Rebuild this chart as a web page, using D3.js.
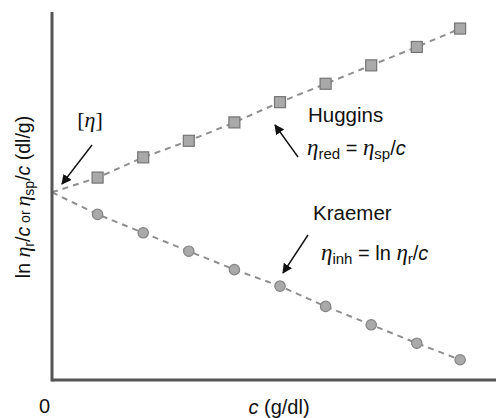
<!DOCTYPE html>
<html>
<head>
<meta charset="utf-8">
<script src="https://cdn.jsdelivr.net/npm/d3@7"></script>
<style>
  body { margin: 0; background: #fff; }
  svg { display: block; font-family: "Liberation Sans", Arial, sans-serif; }
</style>
</head>
<body>
<svg id="chart" width="496" height="418"></svg>
<script>
// 濃度 c (g/dl)
const conc = [1, 2, 3, 4, 5, 6, 7, 8, 8.95];
// Huggins (η_red = η_sp / c)
const huggins = [1.10, 1.21, 1.30, 1.40, 1.51, 1.61, 1.71, 1.81, 1.91];
// Kraemer (η_inh = ln η_r / c)
const kraemer = [0.90, 0.80, 0.70, 0.60, 0.51, 0.40, 0.30, 0.20, 0.11];
// 固有粘度 [η] (c = 0 の切片)
const intrinsic = 1.02;
const xTickLabels = ["0"];

const svg = d3.select("#chart");
const margin = {top: 12, right: 0, bottom: 38, left: 52};
const W = 496, H = 418;

const x = d3.scaleLinear().domain([0, 10]).range([margin.left, margin.left + 456]);
const y = d3.scaleLinear().domain([0, 2]).range([H - margin.bottom, H - margin.bottom - 368]);

const lineColor = "#8f8f8f";
const axisColor = "#555";
const fs = 20;      // 本文フォントサイズ
const etaFs = 23;   // η のフォントサイズ
const subFs = 15;   // 添字
const serif = "Liberation Serif, DejaVu Serif, serif";

// 破線 (切片から各点まで) とマーカー
function drawSeries(vals, shape) {
  const pts = [{c: 0, v: intrinsic}].concat(conc.map((c, i) => ({c: c, v: vals[i]})));
  svg.append("path")
    .datum(pts)
    .attr("d", d3.line().x(d => x(d.c)).y(d => y(d.v)))
    .attr("fill", "none")
    .attr("stroke", lineColor)
    .attr("stroke-width", 2)
    .attr("stroke-dasharray", "6,5");

  const marks = svg.append("g");
  if (shape === "square") {
    marks.selectAll("rect").data(pts.slice(1)).join("rect")
      .attr("x", d => x(d.c) - 5.5)
      .attr("y", d => y(d.v) - 5.5)
      .attr("width", 11).attr("height", 11)
      .attr("fill", "#a9a9a9")
      .attr("stroke", "#747474")
      .attr("stroke-width", 1.2);
  } else {
    marks.selectAll("circle").data(pts.slice(1)).join("circle")
      .attr("cx", d => x(d.c))
      .attr("cy", d => y(d.v))
      .attr("r", 5.2)
      .attr("fill", "#a9a9a9")
      .attr("stroke", "#858585")
      .attr("stroke-width", 1.2);
  }
}
drawSeries(huggins, "square");
drawSeries(kraemer, "circle");

// 軸
const xAxis = svg.append("g")
  .attr("transform", `translate(0,${y(0)})`)
  .call(d3.axisBottom(x).tickValues([0]).tickSize(0).tickPadding(19).tickFormat((d, i) => xTickLabels[i]));
xAxis.select(".domain").remove();
xAxis.selectAll("text")
  .attr("font-size", fs).attr("fill", "#111")
  .attr("font-family", "Liberation Sans, Arial, sans-serif")
  .attr("dx", -8);

svg.append("line")
  .attr("x1", x(0)).attr("x2", W)
  .attr("y1", y(0)).attr("y2", y(0))
  .attr("stroke", axisColor).attr("stroke-width", 3);
svg.append("line")
  .attr("x1", x(0)).attr("x2", x(0))
  .attr("y1", y(2)).attr("y2", y(0) + 1.5)
  .attr("stroke", axisColor).attr("stroke-width", 3);

// 矢印
svg.append("defs").append("marker")
  .attr("id", "arrow")
  .attr("viewBox", "0 0 10 10")
  .attr("refX", 9).attr("refY", 5)
  .attr("markerWidth", 10).attr("markerHeight", 10)
  .attr("markerUnits", "userSpaceOnUse")
  .attr("orient", "auto")
  .append("path").attr("d", "M0,0L10,5L0,10Z").attr("fill", "#111");

function arrow(x1, y1, x2, y2) {
  svg.append("line")
    .attr("x1", x1).attr("y1", y1).attr("x2", x2).attr("y2", y2)
    .attr("stroke", "#111").attr("stroke-width", 1.4)
    .attr("marker-end", "url(#arrow)");
}
arrow(92, 145, 62, 184);
arrow(298, 157, 275, 125);
arrow(308, 235, 283, 273);

const eta = (f = etaFs) => `<tspan font-family="${serif}" font-style="italic" font-size="${f}">η</tspan>`;
const sub = (s, f = subFs) => `<tspan font-size="${f}" dy="4">${s}</tspan>`;

// [η]
svg.append("text")
  .attr("x", 90).attr("y", 127)
  .attr("text-anchor", "middle")
  .attr("font-family", serif)
  .attr("font-size", 22).attr("fill", "#111")
  .html(`[<tspan font-style="italic">η</tspan>]`);

svg.append("text")
  .attr("x", 308).attr("y", 122)
  .attr("font-size", 20.5).attr("fill", "#111")
  .text("Huggins");

svg.append("text")
  .attr("x", 307).attr("y", 155)
  .attr("font-size", fs).attr("fill", "#111")
  .html(`${eta()}${sub("red")}<tspan dy="-4"> = </tspan>${eta()}${sub("sp")}<tspan dy="-4">/</tspan><tspan font-style="italic">c</tspan>`);

svg.append("text")
  .attr("x", 313).attr("y", 220)
  .attr("font-size", 20.5).attr("fill", "#111")
  .text("Kraemer");

svg.append("text")
  .attr("x", 321).attr("y", 260)
  .attr("font-size", fs).attr("fill", "#111")
  .html(`${eta()}${sub("inh")}<tspan dy="-4"> = ln </tspan>${eta()}${sub("r")}<tspan dy="-4">/</tspan><tspan font-style="italic">c</tspan>`);

// x 軸タイトル
svg.append("text")
  .attr("x", 279).attr("y", 414)
  .attr("text-anchor", "middle")
  .attr("font-size", fs).attr("fill", "#111")
  .html(`<tspan font-style="italic">c</tspan> (g/dl)`);

// y 軸タイトル
svg.append("text")
  .attr("transform", "translate(30,197) rotate(-90)")
  .attr("text-anchor", "middle")
  .attr("font-size", 19.5).attr("fill", "#111")
  .html(`ln ${eta(22)}${sub("r", 14)}<tspan dy="-4">/</tspan><tspan font-style="italic">c</tspan><tspan font-size="14"> or </tspan>${eta(22)}${sub("sp", 14)}<tspan dy="-4">/</tspan><tspan font-style="italic">c</tspan> (dl/g)`);
</script>
</body>
</html>
